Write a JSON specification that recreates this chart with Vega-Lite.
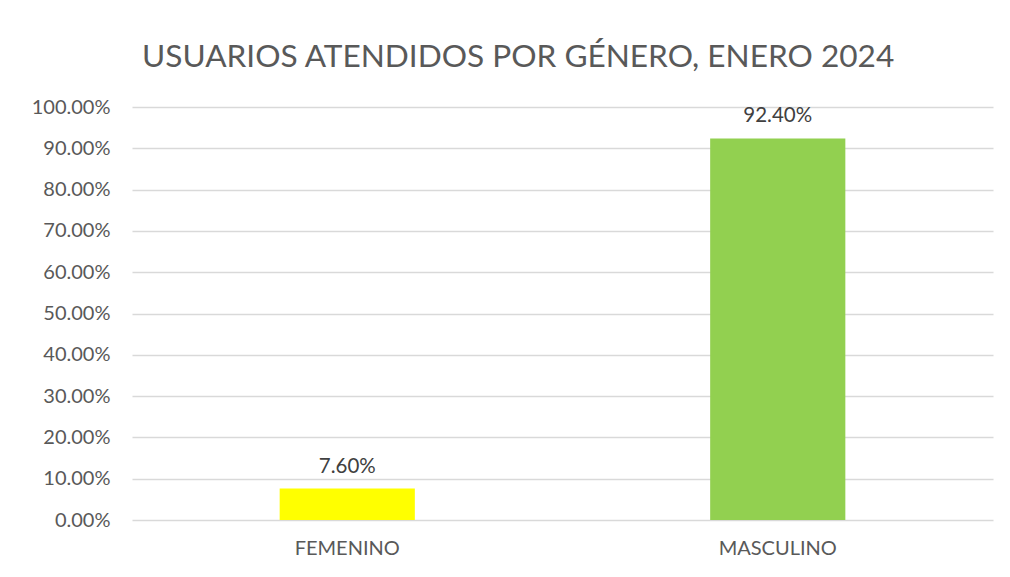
{
  "$schema": "https://vega.github.io/schema/vega-lite/v6.json",
  "width": 861,
  "height": 413,
  "autosize": {"type": "none"},
  "padding": {"left": 132, "top": 107, "right": 17, "bottom": 57},
  "background": "white",
  "title": {
    "text": "USUARIOS ATENDIDOS POR GÉNERO, ENERO 2024",
    "font": "Lato",
    "fontSize": 31.6,
    "fontWeight": "normal",
    "color": "#595959",
    "anchor": "middle",
    "frame": "bounds",
    "baseline": "alphabetic",
    "offset": -2,
    "dx": 6
  },
  "data": {
    "values": [
      {"genero": "FEMENINO", "pct": 0.076},
      {"genero": "MASCULINO", "pct": 0.924}
    ]
  },
  "encoding": {
    "x": {
      "field": "genero",
      "type": "nominal",
      "sort": null,
      "scale": {"paddingInner": 0.686, "paddingOuter": 0.343},
      "axis": {
        "title": null,
        "labelAngle": 0,
        "labelFont": "Lato",
        "labelFontSize": 20,
        "labelColor": "#595959",
        "labelPadding": 18,
        "ticks": false,
        "domain": false
      }
    },
    "y": {
      "field": "pct",
      "type": "quantitative",
      "scale": {"domain": [0, 1]},
      "axis": {
        "title": null,
        "format": ".2%",
        "values": [0, 0.1, 0.2, 0.3, 0.4, 0.5, 0.6, 0.7, 0.8, 0.9, 1.0],
        "labelFont": "Lato",
        "labelFontSize": 20,
        "labelColor": "#595959",
        "labelPadding": 22,
        "labelOverlap": false,
        "ticks": false,
        "domain": false,
        "gridColor": "#d9d9d9",
        "gridWidth": 1.3
      }
    }
  },
  "layer": [
    {
      "mark": {"type": "bar"},
      "encoding": {
        "color": {
          "field": "genero",
          "type": "nominal",
          "scale": {"domain": ["FEMENINO", "MASCULINO"], "range": ["#FFFF00", "#92D050"]},
          "legend": null
        }
      }
    },
    {
      "mark": {"type": "text", "baseline": "alphabetic", "dy": -16, "font": "Lato", "fontSize": 20.5, "color": "#404040"},
      "encoding": {
        "text": {"field": "pct", "type": "quantitative", "format": ".2%"}
      }
    }
  ],
  "config": {"view": {"stroke": null}}
}
